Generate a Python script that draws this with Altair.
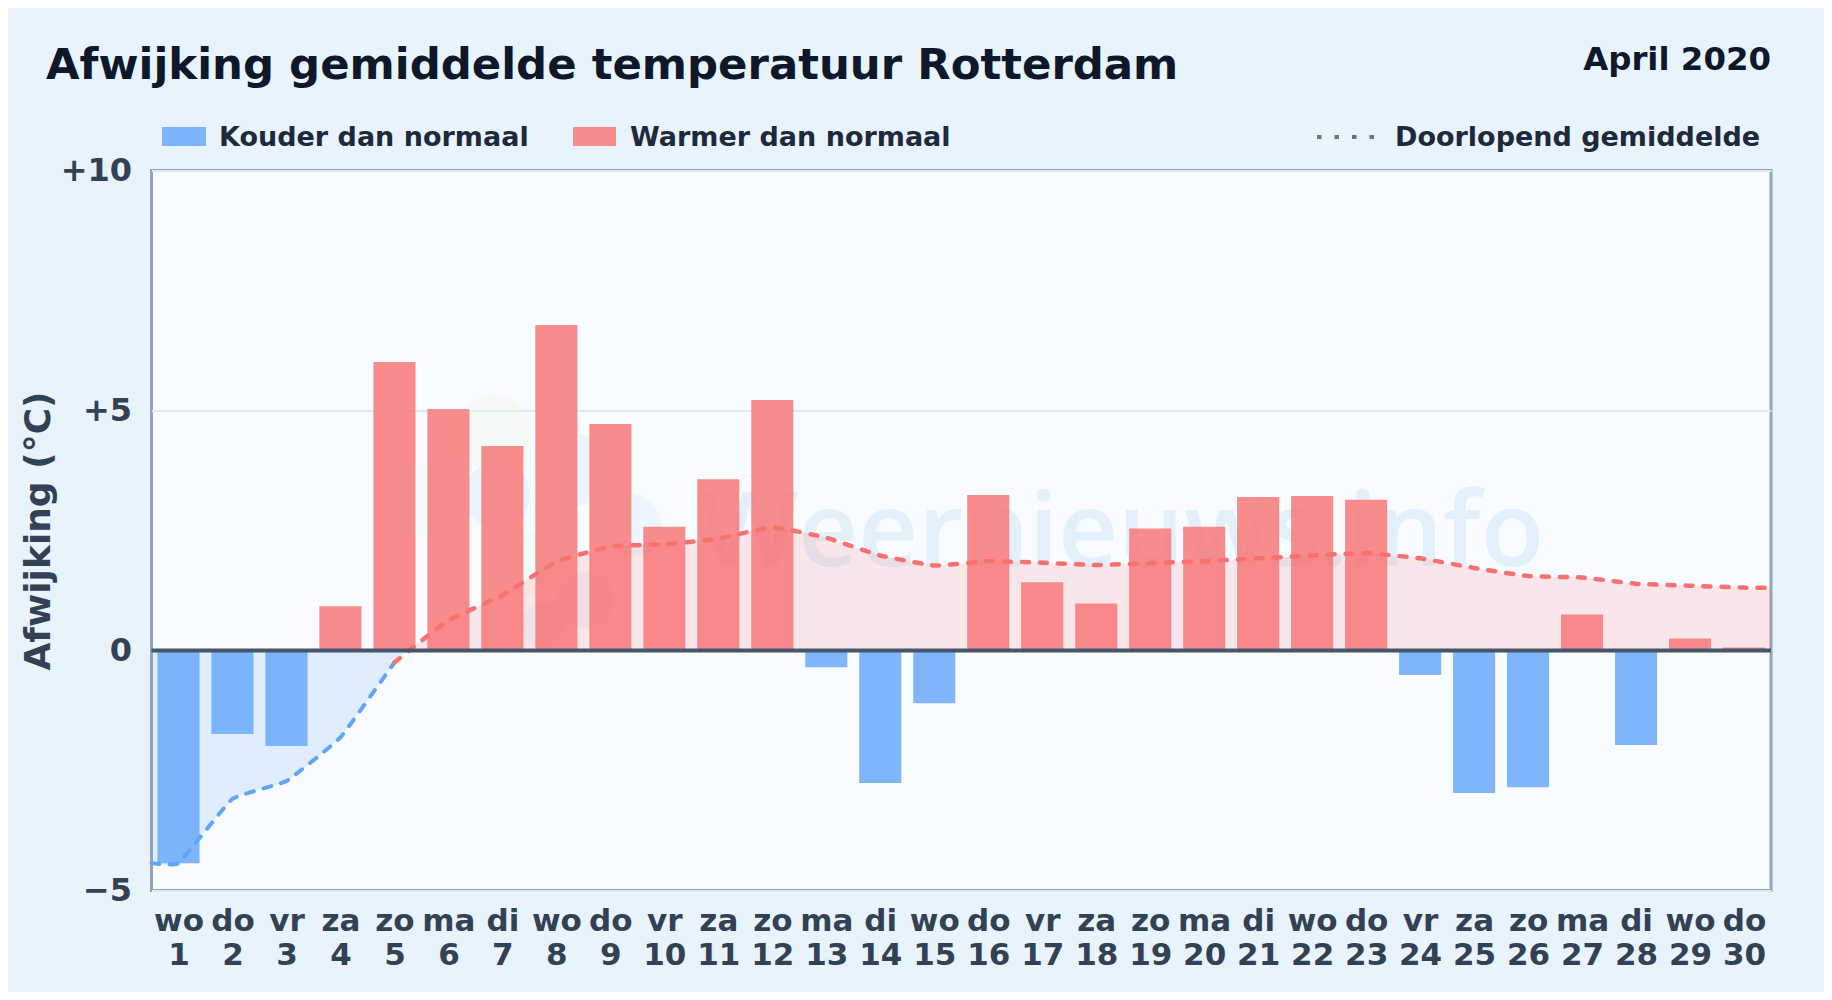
import json
import altair as alt
import pandas as pd

DAYS = list(range(1, 31))
WEEKDAYS = ["wo","do","vr","za","zo","ma","di","wo","do","vr","za","zo","ma","di","wo",
            "do","vr","za","zo","ma","di","wo","do","vr","za","zo","ma","di","wo","do"]
ANOMALY = [-4.43,-1.74,-1.99,0.92,6.01,5.03,4.26,6.78,4.72,2.58,3.57,5.22,-0.35,-2.76,-1.10,
           3.24,1.42,0.98,2.54,2.58,3.20,3.22,3.14,-0.51,-2.97,-2.85,0.75,-1.97,0.25,0.06]
RUNNING_MEAN = [-4.43,-3.09,-2.72,-1.81,-0.25,0.63,1.15,1.85,2.17,2.21,2.33,2.57,2.35,1.98,1.77,
                1.86,1.83,1.78,1.82,1.86,1.92,1.98,2.03,1.92,1.72,1.55,1.52,1.39,1.35,1.31]
CROSS_DAY = 5.27
LEFT_EDGE, RIGHT_EDGE = 0.5, 30.5
Y_TICKS = [-5, 0, 5, 10]

BLUE, RED = "#60a5fa", "#f87171"
OX, OY = 151.5, 170.5
W, H = 1619.5, 720
def px(x): return x - OX
def py(y): return y - OY

bars = pd.DataFrame({"day": DAYS, "v": ANOMALY})
bars["x0"] = bars.day - 0.39
bars["x1"] = bars.day + 0.39

neg_x = [LEFT_EDGE] + DAYS[:5]
neg_y = [RUNNING_MEAN[0]] + RUNNING_MEAN[:5]
neg_line = pd.DataFrame({"x": neg_x, "y": neg_y})
neg_area = pd.DataFrame({"x": neg_x + [CROSS_DAY], "y": neg_y + [0]})
pos_x = DAYS[5:] + [RIGHT_EDGE]
pos_y = RUNNING_MEAN[5:] + [RUNNING_MEAN[-1]]
pos_area = pd.DataFrame({"x": [CROSS_DAY] + pos_x, "y": [0] + pos_y})
pos_line = pd.DataFrame({"x": [5, CROSS_DAY] + pos_x, "y": [RUNNING_MEAN[4], 0] + pos_y})

x_scale = alt.Scale(domain=[LEFT_EDGE, RIGHT_EDGE], nice=False, zero=False)
y_scale = alt.Scale(domain=[-5, 10], nice=False)
label_expr = "[" + json.dumps(WEEKDAYS) + "[datum.value-1], datum.label]"
x_axis = alt.Axis(values=DAYS, title=None, tickSize=0, domain=False, grid=False, labelExpr=label_expr,
                  labelFontSize=31, labelFontWeight="bold", labelColor="#334155", labelOverlap=False,
                  labelLineHeight=34, labelPadding=16, labelFlush=False, labelAngle=0, labelBaseline="top")
y_axis = alt.Axis(values=Y_TICKS, title="Afwijking (°C)", tickSize=0, domain=False, grid=True, gridColor="#e2e8f0",
                  gridWidth=2, labelExpr="datum.value>0 ? '+'+datum.value : datum.value<0 ? '−'+abs(datum.value) : '0'",
                  labelFontSize=32, labelFontWeight="bold", labelColor="#334155", labelPadding=20,
                  titleFontSize=36, titleFontWeight="bold", titleColor="#334155", titlePadding=3)
X = alt.X("x:Q", scale=x_scale, axis=x_axis)
Y = alt.Y("y:Q", scale=y_scale, axis=y_axis)

FONT = "DejaVu Sans"
def label(text, x, y, size, color, align="left", font=FONT, weight="bold"):
    return alt.Chart(pd.DataFrame({"t": [text]})).mark_text(
        font=font, fontSize=size, fontWeight=weight, color=color, align=align, baseline="alphabetic"
    ).encode(x=alt.value(px(x)), y=alt.value(py(y)), text="t:N")

def swatch(x0, x1, color):
    return alt.Chart(pd.DataFrame({"a": [0]})).mark_rect(color=color, opacity=0.8).encode(
        x=alt.value(px(x0)), x2=alt.value(px(x1)), y=alt.value(py(127)), y2=alt.value(py(146)))

def blob(x, y, d, color, op):
    return alt.Chart(pd.DataFrame({"a": [0]})).mark_point(filled=True, shape="circle", color=color, opacity=op, size=d*d*0.785).encode(
        x=alt.value(px(x)), y=alt.value(py(y)))

watermark = label("Weernieuws.info", 700, 566, 104, "#e3f0fa", font="Open Sans", weight=600)
blobs = [blob(493,433,85,"#eef9ea",0.45), blob(420,500,80,"#eef9ea",0.4), blob(531,565,70,"#eef9ea",0.4),
         blob(497,495,75,"#e3eefb",0.6), blob(575,470,80,"#e3eefb",0.5), blob(630,525,70,"#e8f3fd",0.7),
         blob(585,600,65,"#e3eefb",0.5), blob(543,625,50,"#e8f3fd",0.6)]

neg_a = alt.Chart(neg_area).mark_area(color=BLUE, opacity=0.16, interpolate="cardinal", tension=0.7).encode(x=X, y=Y, y2=alt.datum(0))
pos_a = alt.Chart(pos_area).mark_area(color=RED, opacity=0.15, interpolate="cardinal", tension=0.7).encode(x=X, y=Y, y2=alt.datum(0))
bar = alt.Chart(bars).mark_bar(opacity=0.8).encode(
    x=alt.X("x0:Q", scale=x_scale, axis=x_axis), x2="x1:Q",
    y=alt.Y("v:Q", scale=y_scale, axis=y_axis), y2=alt.datum(0),
    color=alt.condition("datum.v<0", alt.value(BLUE), alt.value(RED)))
neg_l = alt.Chart(neg_line).mark_line(color=BLUE, strokeWidth=4, strokeDash=[8,10], strokeCap="round", interpolate="cardinal", tension=0.7).encode(x=X, y=Y)
pos_l = alt.Chart(pos_line).mark_line(color=RED, strokeWidth=4.5, strokeDash=[7,11], strokeCap="round", interpolate="cardinal", tension=0.7).encode(x=X, y=Y)
zero = alt.Chart(pd.DataFrame({"y": [0]})).mark_rule(color="#475569", strokeWidth=4).encode(y=alt.Y("y:Q", scale=y_scale, axis=y_axis))

legend_dots = alt.Chart(pd.DataFrame({"a": [0]})).mark_rule(color="#64748b", strokeWidth=4, strokeDash=[4.5,13]).encode(
    x=alt.value(px(1317)), x2=alt.value(px(1375)), y=alt.value(py(137)))

layers = blobs + [watermark, neg_a, pos_a, bar, neg_l, pos_l, zero,
    label("Afwijking gemiddelde temperatuur Rotterdam", 46, 79, 43.4, "#0f172a"),
    label("April 2020", 1771, 70, 32.4, "#0f172a", align="right"),
    swatch(162, 206, BLUE), label("Kouder dan normaal", 219, 146, 27, "#1e293b"),
    swatch(573, 616, RED), label("Warmer dan normaal", 630, 146, 27, "#1e293b"),
    legend_dots, label("Doorlopend gemiddelde", 1395, 146, 27, "#1e293b")]

chart = alt.layer(*layers).properties(
    width=W, height=H, background="#e8f3fc",
    padding={"left": OX - 8, "top": OY - 8, "right": 53, "bottom": 101.5},
    autosize=alt.AutoSizeParams(type="none"),
).configure_view(fill="#f8fbff", stroke="#94a3b8", strokeWidth=3).configure_axis(labelFont=FONT, titleFont=FONT)

chart.save("out.html", embed_options={"renderer": "svg", "actions": False})
